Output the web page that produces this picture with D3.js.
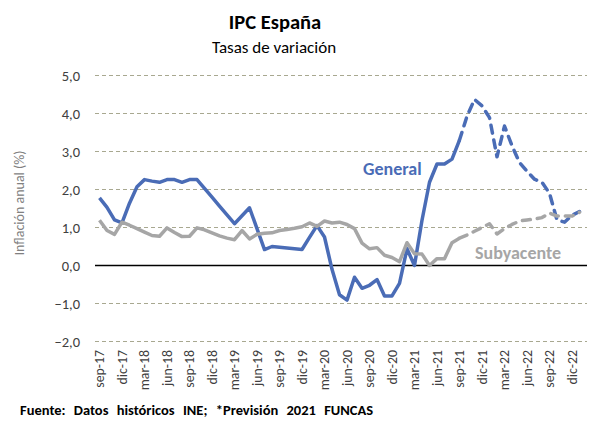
<!DOCTYPE html>
<html>
<head>
<meta charset="utf-8">
<script src="https://cdn.jsdelivr.net/npm/d3@7"></script>
<style>
  body { margin: 0; background: #fff; }
  svg { display: block; font-family: Carlito, Lato, "Open Sans", sans-serif; }
</style>
</head>
<body>
<svg id="chart" width="598" height="427"></svg>
<script>
// Data ======================================================

var months = [
  "sep-17", "oct-17", "nov-17", "dic-17",
  "ene-18", "feb-18", "mar-18", "abr-18", "may-18", "jun-18", "jul-18", "ago-18", "sep-18", "oct-18", "nov-18", "dic-18",
  "ene-19", "feb-19", "mar-19", "abr-19", "may-19", "jun-19", "jul-19", "ago-19", "sep-19", "oct-19", "nov-19", "dic-19",
  "ene-20", "feb-20", "mar-20", "abr-20", "may-20", "jun-20", "jul-20", "ago-20", "sep-20", "oct-20", "nov-20", "dic-20",
  "ene-21", "feb-21", "mar-21", "abr-21", "may-21", "jun-21", "jul-21", "ago-21", "sep-21", "oct-21", "nov-21", "dic-21",
  "ene-22", "feb-22", "mar-22", "abr-22", "may-22", "jun-22", "jul-22", "ago-22", "sep-22", "oct-22", "nov-22", "dic-22",
  "ene-23"
];

var general = [
  1.78, 1.53, 1.2, 1.12,
  1.64, 2.07, 2.26, 2.22, 2.19, 2.26, 2.26, 2.19, 2.26, 2.26, 2.03, 1.8,
  1.56, 1.33, 1.1, 1.31, 1.52, 0.97, 0.42, 0.5, 0.48, 0.46, 0.44, 0.42,
  0.74, 1.05, 0.75, -0.1, -0.77, -0.91, -0.31, -0.6, -0.52, -0.37, -0.8, -0.8,
  -0.47, 0.44, 0.0, 1.19, 2.19, 2.67, 2.67, 2.8, 3.3, 3.93, 4.37, 4.2,
  3.89, 2.86, 3.67, 3.15, 2.71, 2.48, 2.27, 2.19, 1.9, 1.2, 1.14, 1.32,
  1.42
];

var subyacente = [
  1.19, 0.92, 0.82, 1.14,
  1.06, 0.97, 0.88, 0.79, 0.77, 0.99, 0.87, 0.76, 0.77, 0.99, 0.94, 0.86,
  0.78, 0.72, 0.68, 0.92, 0.7, 0.82, 0.85, 0.86, 0.92, 0.95, 0.98, 1.02,
  1.12, 1.03, 1.17, 1.12, 1.14, 1.08, 0.97, 0.59, 0.44, 0.47, 0.27, 0.21,
  0.1, 0.6, 0.31, 0.3, 0.0, 0.18, 0.18, 0.6, 0.72, 0.8, 0.9, 1.0,
  1.1, 0.83, 0.97, 1.08, 1.17, 1.2, 1.22, 1.26, 1.38, 1.3, 1.3, 1.3,
  1.4
];

// first month drawn as forecast (dashed)
var forecastStart = 48;

var yTicks = [-2, -1, 0, 1, 2, 3, 4, 5];

// Setup =====================================================

var svg = d3.select("#chart");
var blue = "#4a6cb6";
var grey = "#a6a6a6";

var x = d3.scaleLinear().domain([-0.6, 65]).range([95, 587]);
var y = d3.scaleLinear().domain([-2, 5]).range([341.5, 75.5]);

svg.append("rect").attr("width", 598).attr("height", 427).attr("fill", "#fff");

// Titles
svg.append("text")
  .attr("x", 275).attr("y", 29)
  .attr("text-anchor", "middle")
  .attr("font-size", 20.5).attr("font-weight", "bold")
  .attr("fill", "#000")
  .text("IPC España");

svg.append("text")
  .attr("x", 274).attr("y", 53)
  .attr("text-anchor", "middle")
  .attr("font-size", 17)
  .attr("fill", "#000")
  .text("Tasas de variación");

// Grid ======================================================

var grid = svg.append("g");
yTicks.forEach(function(t) {
  grid.append("line")
    .attr("x1", x(-0.6)).attr("x2", x(65))
    .attr("y1", y(t)).attr("y2", y(t))
    .attr("stroke", t == 0 ? "#000" : "#a8a890")
    .attr("stroke-width", t == 0 ? 1.3 : 1)
    .attr("stroke-dasharray", t == 0 ? null : "4,3");
});

// Y axis labels
var yAxis = svg.append("g")
  .attr("transform", "translate(80,0)")
  .call(d3.axisLeft(y).tickValues(yTicks).tickSize(0).tickPadding(0)
    .tickFormat(function(d) { return d3.format(".1f")(d).replace(".", ","); }));
yAxis.select(".domain").remove();
yAxis.selectAll("text")
  .attr("font-size", 14.5)
  .attr("font-family", "Carlito, Lato, 'Open Sans', sans-serif")
  .attr("fill", "#404040");

svg.append("text")
  .attr("transform", "translate(24,203) rotate(-90)")
  .attr("text-anchor", "middle")
  .attr("font-size", 14)
  .attr("fill", "#808080")
  .text("Inflación anual (%)");

// X axis labels (every 3 months)
var xLabels = svg.append("g");
months.forEach(function(m, i) {
  if (i % 3 != 0) return;
  xLabels.append("text")
    .attr("transform", "translate(" + x(i) + ",350) rotate(-90)")
    .attr("text-anchor", "end")
    .attr("dy", "0.35em")
    .attr("font-size", 13.8)
    .attr("fill", "#404040")
    .text(m);
});

// Lines =====================================================

var line = d3.line()
  .x(function(d) { return x(d.i); })
  .y(function(d) { return y(d.v); });

function drawSeries(values, color) {
  var pts = values.map(function(v, i) { return {i: i, v: v}; });
  svg.append("path")
    .datum(pts.slice(0, forecastStart + 1))
    .attr("d", line)
    .attr("fill", "none")
    .attr("stroke", color)
    .attr("stroke-width", 3.5)
    .attr("stroke-linejoin", "round");
  svg.append("path")
    .datum(pts.slice(forecastStart))
    .attr("d", line)
    .attr("fill", "none")
    .attr("stroke", color)
    .attr("stroke-width", 3.5)
    .attr("stroke-linejoin", "round")
    .attr("stroke-linecap", "round")
    .attr("stroke-dasharray", "8,7");
}

drawSeries(general, blue);
drawSeries(subyacente, grey);

// Series labels
svg.append("text")
  .attr("x", 363).attr("y", 175)
  .attr("font-size", 18).attr("font-weight", "bold")
  .attr("fill", blue)
  .text("General");

svg.append("text")
  .attr("x", 475).attr("y", 259)
  .attr("font-size", 18).attr("font-weight", "bold")
  .attr("fill", grey)
  .text("Subyacente");

// Footer
svg.append("text")
  .attr("x", 20).attr("y", 415)
  .attr("font-size", 14.5).attr("font-weight", "bold")
  .attr("word-spacing", 5)
  .attr("fill", "#000")
  .text("Fuente: Datos históricos INE; *Previsión 2021 FUNCAS");
</script>
</body>
</html>
